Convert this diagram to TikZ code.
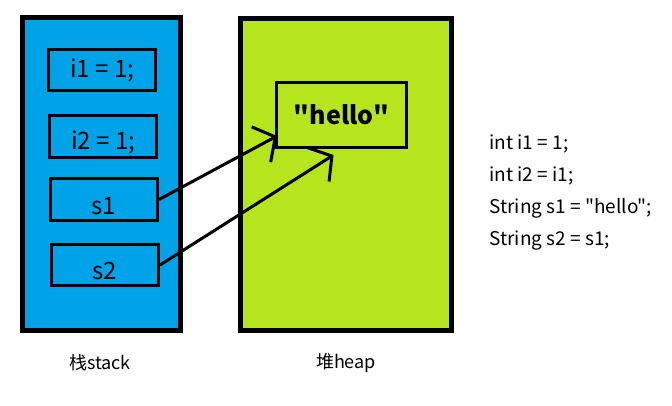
\documentclass[tikz,border=0pt]{standalone}
\usepackage{fontspec}
\usetikzlibrary{matrix}
\usetikzlibrary{calc}
\usetikzlibrary{arrows.meta}
\newfontfamily\cjk{Noto Sans CJK SC}
\definecolor{stackblue}{RGB}{0,162,232}
\definecolor{heaplime}{RGB}{181,230,29}

\begin{document}
\begin{tikzpicture}[x=1pt, y=-1pt,
  area/.style={draw=black, line width=5pt, inner sep=0pt},
  slot/.style={draw=black, line width=3pt, minimum width=107pt, minimum height=41pt, inner sep=0pt,
    font=\cjk\fontsize{24}{28}\selectfont},
  caption/.style={font=\cjk\fontsize{18}{22}\selectfont},
  ref/.style={black, line width=3pt, -{Straight Barb[length=16pt, width=40pt]}}]
  \useasboundingbox (0,0) rectangle (672,405);

  \node[area, fill=stackblue, minimum width=158pt, minimum height=313pt] (stack) at (101.5,174) {};
  \node[area, fill=heaplime, minimum width=211pt, minimum height=312pt] (heap) at (346,174.5) {};

  \node[slot] (i1) at (102,70) {i1 = 1;};
  \node[slot, minimum height=42pt, text height=26pt, text depth=0pt] (i2) at (103,136.5) {i2 = 1;};
  \node[slot, minimum height=42pt, text height=30pt, text depth=0pt] (s1) at (104,199.5) {s1};
  \node[slot, text height=28pt, text depth=0pt] (s2) at (105,265) {s2};

  \node[slot, minimum width=130pt, minimum height=65pt, font=\cjk\bfseries\fontsize{25}{30}\selectfont]
    (hello) at (341.5,115) {"hello"};

  \node[caption] (stacklabel) at (100,363) {栈stack};
  \node[caption] (heaplabel) at (346,363) {堆heap};

  \matrix (code) [matrix of nodes, nodes={anchor=west, minimum height=32pt, text height=14pt, text depth=4pt,
    inner sep=0pt, font=\cjk\fontsize{19}{22}\selectfont}, row sep=0pt, anchor=west] at (486,192.5)
  {
  int i1 = 1; \\
  int i2 = i1; \\
  String s1 = "hello"; \\
  String s2 = s1; \\
  };

  \draw[ref] (s1.east) -- ($(hello.south west)+(2,-13)$);
  \draw[ref] (s2.east) -- ($(hello.south)+(-8,6)$);
\end{tikzpicture}
\end{document}
